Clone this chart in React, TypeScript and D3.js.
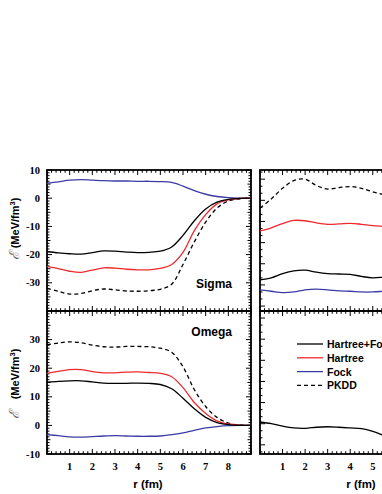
import { useEffect, useRef } from 'react'
import * as d3 from 'd3'

// radial grid (fm), shared by all curves
const R = [0, 0.5, 1, 1.5, 2, 2.5, 3, 3.5, 4, 4.5, 5, 5.5, 6, 6.5, 7, 7.5, 8, 8.5, 9]
const R_RIGHT = [0, 0.5, 1, 1.5, 2, 2.5, 3, 3.5, 4, 4.5, 5, 5.5, 6]

// Sigma (top left)
const sigmaHF = [-18.9, -19.4, -19.7, -19.8, -19.3, -18.7, -18.8, -19.1, -19.3, -19.2, -18.8, -17.3, -13.2, -8.0, -3.8, -1.4, -0.4, -0.1, 0]
const sigmaH = [-24.2, -25.0, -25.9, -26.3, -25.5, -24.7, -24.8, -25.2, -25.4, -25.4, -24.9, -23.5, -19.2, -11.5, -5.8, -2.0, -0.6, -0.1, 0]
const sigmaF = [5.3, 5.8, 6.4, 6.6, 6.4, 6.2, 6.1, 6.1, 6.0, 6.0, 5.9, 5.6, 4.3, 2.7, 1.4, 0.6, 0.2, 0.05, 0]
const sigmaPKDD = [-32.0, -33.0, -34.0, -33.8, -32.8, -32.2, -32.5, -32.9, -33.0, -32.8, -32.3, -30.5, -23.5, -15.5, -8.5, -3.5, -1.0, -0.2, 0]

// Omega (bottom left)
const omegaHF = [15.1, 15.4, 15.6, 15.6, 15.2, 14.8, 14.7, 14.7, 14.8, 14.7, 14.3, 12.8, 9.5, 5.8, 2.8, 1.0, 0.3, 0.05, 0]
const omegaH = [18.2, 18.9, 19.5, 19.5, 18.8, 18.4, 18.4, 18.6, 18.7, 18.5, 18.2, 17.0, 13.2, 8.0, 4.2, 1.6, 0.5, 0.1, 0]
const omegaF = [-3.2, -3.6, -4.0, -4.1, -3.9, -3.7, -3.6, -3.7, -3.8, -3.8, -3.7, -3.2, -2.6, -1.7, -0.9, -0.4, -0.1, 0, 0]
const omegaPKDD = [28.2, 28.8, 29.2, 28.9, 28.1, 27.5, 27.4, 27.6, 27.6, 27.5, 27.0, 25.6, 20.5, 12.5, 6.6, 2.8, 0.8, 0.1, 0]

// right-hand panels (own scale)
const rtHF = [-14.3, -14.0, -13.4, -13.0, -12.9, -13.2, -13.4, -13.45, -13.5, -13.8, -14.0, -13.9, -13.8]
const rtH = [-7.35, -6.9, -6.3, -5.85, -5.9, -6.2, -6.4, -6.35, -6.26, -6.4, -6.6, -6.7, -6.8]
const rtF = [-15.7, -15.9, -16.1, -16.0, -15.7, -15.6, -15.7, -15.85, -15.9, -16.0, -16.0, -15.9, -15.8]
const rtPKDD = [-4.1, -2.8, -1.3, -0.2, 0.0, -0.9, -1.4, -1.2, -1.05, -1.3, -1.8, -2.2, -2.5]
const rbHF = [0.24, 0.0, -0.35, -0.6, -0.65, -0.5, -0.43, -0.5, -0.6, -0.71, -1.1, -1.7, -2.3]

const X_TICKS = [1, 2, 3, 4, 5, 6, 7, 8]
const X_TICKS_RIGHT = [1, 2, 3, 4, 5]
const SIGMA_TICKS = [10, 0, -10, -20, -30]
const OMEGA_TICKS = [30, 20, 10, 0, -10]
const LEGEND = ['Hartree+Fock', 'Hartree', 'Fock', 'PKDD']

const BLACK = '#000000'
const RED = '#ee2a2e'
const BLUE = '#3b3ba6'
const SERIF = '"Liberation Serif", "Times New Roman", serif'
const SANS = '"Liberation Sans", Arial, sans-serif'

export default function App() {
  const svgRef = useRef<SVGSVGElement>(null)

  useEffect(() => {
    const el = svgRef.current
    if (!el) return
    d3.select(el).selectAll('*').remove()
    const svg = d3.select(el)

    const xL = d3.scaleLinear().domain([0, 9]).range([47, 251])
    const xR = d3.scaleLinear().domain([0, 9]).range([260, 463])
    const yTop = d3.scaleLinear().domain([-40, 10]).range([311, 170])
    const yBot = d3.scaleLinear().domain([-10, 40]).range([454, 311])
    const yRT = d3.scaleLinear().domain([-18.7, 1.3]).range([311, 170])
    const yRB = d3.scaleLinear().domain([-4.3, 16]).range([454, 311])

    const defs = svg.append('defs')
    let clipId = 0

    const panel = (x: d3.ScaleLinear<number, number>, y: d3.ScaleLinear<number, number>, yMinor: number, yMajor: number) => {
      const [x0, x1] = x.range()
      const [yb, yt] = y.range()
      const id = 'clip' + clipId++
      defs.append('clipPath').attr('id', id)
        .append('rect').attr('x', x0).attr('y', yt).attr('width', x1 - x0).attr('height', yb - yt)
      const g = svg.append('g')
      const lines = svg.append('g').attr('clip-path', `url(#${id})`)

      // x ticks, inward on top and bottom edges
      d3.range(0, 9.001, 0.2).forEach((v) => {
        const major = Math.abs(v - Math.round(v)) < 1e-6
        const len = major ? 5 : 2.8
        const px = x(v)
        g.append('line').attr('x1', px).attr('x2', px).attr('y1', yb).attr('y2', yb - len)
          .attr('stroke', '#000').attr('stroke-width', 1)
        g.append('line').attr('x1', px).attr('x2', px).attr('y1', yt).attr('y2', yt + len)
          .attr('stroke', '#000').attr('stroke-width', 1)
      })
      // y ticks, inward on left and right edges
      const [d0, d1] = y.domain()
      const start = Math.ceil(d0 / yMinor) * yMinor
      d3.range(start, d1 + 1e-6, yMinor).forEach((v) => {
        const major = Math.abs(v / yMajor - Math.round(v / yMajor)) < 1e-6
        const mid = !major && yMajor % 2 === 0 && Math.abs(v / (yMajor / 2) - Math.round(v / (yMajor / 2))) < 1e-6
        const len = major ? 5 : mid ? 3.5 : 2.5
        const py = y(v)
        g.append('line').attr('x1', x0).attr('x2', x0 + len).attr('y1', py).attr('y2', py)
          .attr('stroke', '#000').attr('stroke-width', 1)
        g.append('line').attr('x1', x1).attr('x2', x1 - len).attr('y1', py).attr('y2', py)
          .attr('stroke', '#000').attr('stroke-width', 1)
      })
      g.append('rect').attr('x', x0).attr('y', yt).attr('width', x1 - x0).attr('height', yb - yt)
        .attr('fill', 'none').attr('stroke', '#000').attr('stroke-width', 1.8)
      return lines
    }

    const draw = (g: d3.Selection<SVGGElement, unknown, null, undefined>, xs: number[], vals: number[], x: d3.ScaleLinear<number, number>, y: d3.ScaleLinear<number, number>, color: string, dashed = false) => {
      const line = d3.line<number>().x((_, i) => x(xs[i])).y((d) => y(d)).curve(d3.curveCatmullRom.alpha(0.5))
      g.append('path').attr('d', line(vals)).attr('fill', 'none').attr('stroke', color)
        .attr('stroke-width', 1.3).attr('stroke-dasharray', dashed ? '4,3' : null)
    }

    const gTL = panel(xL, yTop, 1, 10)
    draw(gTL, R, sigmaF, xL, yTop, BLUE)
    draw(gTL, R, sigmaPKDD, xL, yTop, BLACK, true)
    draw(gTL, R, sigmaH, xL, yTop, RED)
    draw(gTL, R, sigmaHF, xL, yTop, BLACK)

    const gBL = panel(xL, yBot, 1, 10)
    draw(gBL, R, omegaF, xL, yBot, BLUE)
    draw(gBL, R, omegaPKDD, xL, yBot, BLACK, true)
    draw(gBL, R, omegaH, xL, yBot, RED)
    draw(gBL, R, omegaHF, xL, yBot, BLACK)

    const gTR = panel(xR, yRT, 1, 3)
    draw(gTR, R_RIGHT, rtF, xR, yRT, BLUE)
    draw(gTR, R_RIGHT, rtPKDD, xR, yRT, BLACK, true)
    draw(gTR, R_RIGHT, rtH, xR, yRT, RED)
    draw(gTR, R_RIGHT, rtHF, xR, yRT, BLACK)

    const gBR = panel(xR, yRB, 1, 3)
    draw(gBR, R_RIGHT, rbHF, xR, yRB, BLACK)

    // tick labels
    const tickText = (x: number, y: number, t: string, anchor: string) =>
      svg.append('text').attr('x', x).attr('y', y).attr('text-anchor', anchor)
        .attr('dominant-baseline', 'central').attr('font-family', SERIF).attr('font-weight', 'bold')
        .attr('font-size', 10.5).attr('fill', '#000').text(t)

    SIGMA_TICKS.forEach((v) => tickText(40, yTop(v), String(v), 'end'))
    OMEGA_TICKS.forEach((v) => tickText(40, yBot(v), String(v), 'end'))
    X_TICKS.forEach((v) => tickText(xL(v), 466, String(v), 'middle'))
    X_TICKS_RIGHT.forEach((v) => tickText(xR(v), 466, String(v), 'middle'))

    // axis titles
    ;[xL, xR].forEach((x) => {
      svg.append('text').attr('x', x(0) + 101).attr('y', 488).attr('text-anchor', 'middle')
        .attr('font-family', SANS).attr('font-weight', 'bold').attr('font-size', 11.5).text('r (fm)')
    })

    const yTitle = (cy: number, gap: number) => {
      const t = svg.append('text').attr('transform', `translate(19,${cy}) rotate(-90)`)
        .attr('text-anchor', 'middle').attr('font-family', SANS).attr('font-weight', 'bold').attr('font-size', 11)
      t.append('tspan').attr('font-family', '"DejaVu Serif", serif').attr('font-style', 'italic').attr('font-weight', 'normal')
        .attr('font-size', 14).attr('fill', '#666').text('ℰ')
      t.append('tspan').attr('dx', gap).text('(MeV/fm')
      t.append('tspan').attr('dy', -4).attr('font-size', 7.5).text('3')
      t.append('tspan').attr('dy', 4).text(')')
    }
    yTitle(229, 4)
    yTitle(384, 12)

    // panel names
    svg.append('text').attr('x', 232).attr('y', 288).attr('text-anchor', 'end')
      .attr('font-family', SANS).attr('font-weight', 'bold').attr('font-size', 12).text('Sigma')
    svg.append('text').attr('x', 232).attr('y', 336).attr('text-anchor', 'end')
      .attr('font-family', SANS).attr('font-weight', 'bold').attr('font-size', 12).text('Omega')

    // legend
    const legendColors = [BLACK, RED, BLUE, BLACK]
    LEGEND.forEach((name, i) => {
      const y = 344 + i * 13.8
      svg.append('line').attr('x1', 297).attr('x2', 323).attr('y1', y).attr('y2', y)
        .attr('stroke', legendColors[i]).attr('stroke-width', 1.3)
        .attr('stroke-dasharray', name === 'PKDD' ? '4,3' : null)
      svg.append('text').attr('x', 327).attr('y', y).attr('dominant-baseline', 'central')
        .attr('font-family', SANS).attr('font-weight', 'bold').attr('font-size', 10.5).text(name)
    })
  }, [])

  return (
    <svg ref={svgRef} width={382} height={494}
      style={{ position: 'absolute', left: 0, top: 0, background: '#fff' }} />
  )
}
